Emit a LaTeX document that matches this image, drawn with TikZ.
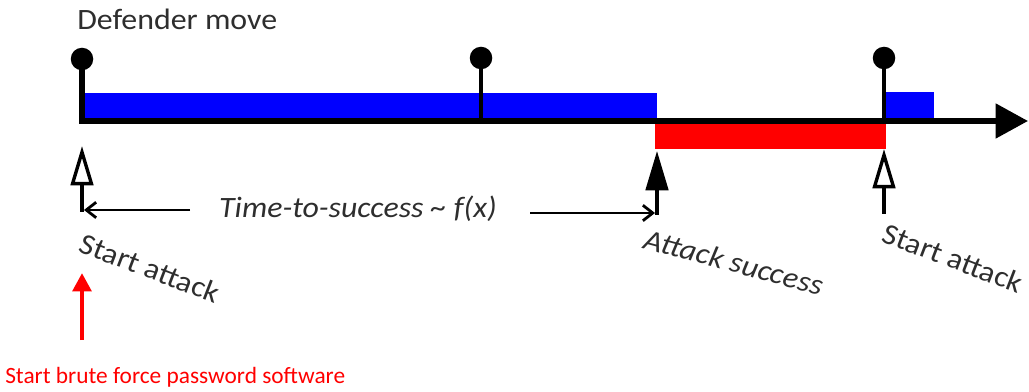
\documentclass[tikz,border=0pt]{standalone}
\usepackage{fontspec}
\setmainfont{Carlito}
\newfontfamily\diag[FakeStretch=1.08]{Carlito}
\usetikzlibrary{arrows.meta}
\tikzset{
  pin/.style={circle,fill=black,inner sep=0pt,minimum size=16pt},
  stem/.style={line width=3pt},
  hollowup/.style={line width=2.4pt,-{Triangle[open,length=28pt,width=16pt,line width=2.4pt]}},
  fullup/.style={line width=2.4pt,-{Triangle[length=28pt,width=16pt]}},
  span/.style={line width=2pt,-{Straight Barb[length=7pt,width=11pt,line width=2pt]}},
  lbl/.style={font=\diag\fontsize{21}{23}\selectfont,text=black!82,inner sep=0pt},
  ilbl/.style={lbl,font=\diag\itshape\fontsize{21}{23}\selectfont},
}
\begin{document}
\begin{tikzpicture}[x=0.025cm,y=-0.025cm]
\useasboundingbox (0,0) rectangle (1029,392);
% bars
\fill[blue] (84,93) rectangle (657,119);
\fill[blue] (886,92) rectangle (934,119);
\fill[red] (655,124) rectangle (886,149);
% defender pins
\node[pin] (d1) at (82,59) {};
\node[pin] (d2) at (481,58) {};
\node[pin] (d3) at (884,58) {};
\coordinate (tip) at (1028,121);
\coordinate (a2) at (481,121);
\coordinate (a3) at (884,121);
\draw[line width=4pt,-{Triangle[length=23pt,width=24pt]}] (d1.center) |- (tip);
\draw[stem] (d2.center) -- (a2);
\draw[stem] (d3.center) -- (a3);
\node[lbl,anchor=base west] (dm) at (77,30) {Defender move};
% event arrows
\coordinate (s1b) at (82,212);
\coordinate (s1t) at (82,146);
\coordinate (sub) at (657,215);
\coordinate (sut) at (657,151);
\coordinate (s2b) at (884,214);
\coordinate (s2t) at (884,149);
\draw[hollowup] (s1b) -- (s1t);
\draw[fullup] (sub) -- (sut);
\draw[hollowup] (s2b) -- (s2t);
% time to success
\node[ilbl] (tts) at (358,209) {Time-to-success \textasciitilde{} f(x)};
\coordinate (h1) at (84,210);
\coordinate (h2) at (655,213);
\draw[span] (190,210) coordinate (h1s) -- (h1);
\draw[span] (530,213) coordinate (h2s) -- (h2);
% labels
\node[lbl,rotate=-21] (l1) at (150,268) {Start attack};
\node[ilbl,rotate=-15] (l2) at (734,262) {Attack success};
\node[lbl,rotate=-21] (l3) at (953,258) {Start attack};
% red annotation
\node[anchor=base west,inner sep=0pt,text=red,font=\fontsize{16.6}{18}\selectfont] (rt) at (5,383) {Start brute force password software};
\coordinate (rb) at (82,340);
\coordinate (rtp) at (82,273);
\draw[red,line width=3.5pt,-{Triangle[length=13pt,width=13pt]}] (rb) -- (rtp);
\end{tikzpicture}
\end{document}
